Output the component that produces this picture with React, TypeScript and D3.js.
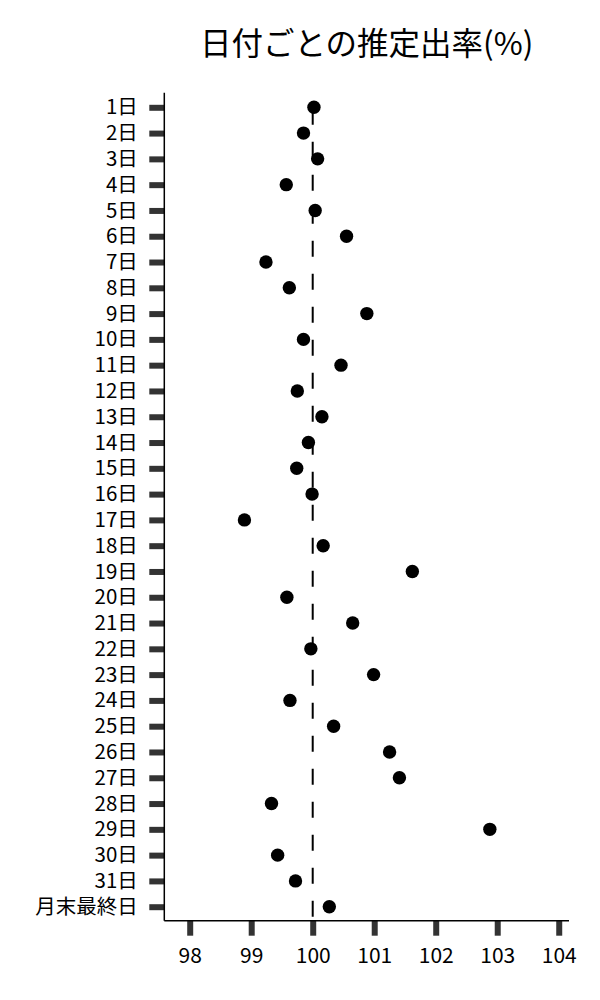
import * as d3 from "d3";
import { useEffect, useRef } from "react";

const DAY_LABELS = [
  "1日", "2日", "3日", "4日", "5日", "6日", "7日", "8日", "9日", "10日",
  "11日", "12日", "13日", "14日", "15日", "16日", "17日", "18日", "19日", "20日",
  "21日", "22日", "23日", "24日", "25日", "26日", "27日", "28日", "29日", "30日",
  "31日", "月末最終日",
];

const RATE_VALUES = [
  100.02, 99.85, 100.08, 99.57, 100.04, 100.55, 99.24, 99.62, 100.88, 99.85,
  100.46, 99.75, 100.15, 99.93, 99.74, 99.99, 98.89, 100.17, 101.62, 99.58,
  100.65, 99.97, 100.99, 99.63, 100.34, 101.25, 101.41, 99.33, 102.88, 99.43,
  99.72, 100.27,
];

const X_TICKS = [98, 99, 100, 101, 102, 103, 104];
const X_DOMAIN = [97.587, 104.167];
const REFERENCE_VALUE = 100;
const TITLE = "日付ごとの推定出率(%)";

const WIDTH = 600;
const HEIGHT = 1000;
const FONT = "'Noto Sans CJK JP', 'Noto Sans', sans-serif";

const drawChart = (svgElement: SVGSVGElement) => {
  const svg = d3.select(svgElement);
  svg.selectAll("*").remove();

  const margin = { top: 92.7, right: 31, bottom: 79.3, left: 164.3 };
  const plotWidth = WIDTH - margin.left - margin.right;
  const plotHeight = HEIGHT - margin.top - margin.bottom;

  const xScale = d3.scaleLinear().domain(X_DOMAIN).range([0, plotWidth]);
  const yScale = d3.scalePoint<string>().domain(DAY_LABELS).range([14.6, plotHeight - 14]);

  const root = svg.append("g").attr("transform", `translate(${margin.left},${margin.top})`);

  svg
    .append("text")
    .attr("x", margin.left + plotWidth / 2)
    .attr("y", 55)
    .attr("text-anchor", "middle")
    .style("font-family", FONT)
    .style("font-size", "31.5px")
    .attr("fill", "#000")
    .text(TITLE);

  // reference line
  root
    .append("line")
    .attr("x1", xScale(REFERENCE_VALUE))
    .attr("x2", xScale(REFERENCE_VALUE))
    .attr("y1", 0)
    .attr("y2", plotHeight)
    .attr("stroke", "#000")
    .attr("stroke-width", 2)
    .attr("stroke-dasharray", "16 17")
    .attr("stroke-dashoffset", 17);

  const yAxis = root
    .append("g")
    .call(d3.axisLeft(yScale).tickSize(15).tickPadding(11.5).tickSizeOuter(0));
  yAxis.select(".domain").remove();
  yAxis.selectAll(".tick line").attr("stroke", "#333").attr("stroke-width", 6);
  yAxis
    .selectAll(".tick text")
    .style("font-family", FONT)
    .style("font-size", "20.5px")
    .attr("fill", "#000");

  const xAxis = root
    .append("g")
    .attr("transform", `translate(0,${plotHeight})`)
    .call(
      d3
        .axisBottom(xScale)
        .tickValues(X_TICKS)
        .tickFormat(d3.format("d"))
        .tickSize(15)
        .tickPadding(12.3)
        .tickSizeOuter(0)
    );
  xAxis.select(".domain").remove();
  xAxis.selectAll(".tick line").attr("stroke", "#333").attr("stroke-width", 6);
  xAxis
    .selectAll(".tick text")
    .style("font-family", FONT)
    .style("font-size", "21px")
    .attr("fill", "#000");

  // spines
  root
    .append("line")
    .attr("x1", 0)
    .attr("x2", 0)
    .attr("y1", 0)
    .attr("y2", plotHeight)
    .attr("stroke", "#000")
    .attr("stroke-width", 1.5);
  root
    .append("line")
    .attr("x1", 0)
    .attr("x2", plotWidth)
    .attr("y1", plotHeight)
    .attr("y2", plotHeight)
    .attr("stroke", "#000")
    .attr("stroke-width", 1.5);

  root
    .selectAll("circle.dot")
    .data(RATE_VALUES)
    .join("circle")
    .attr("class", "dot")
    .attr("cx", (value) => xScale(value))
    .attr("cy", (_, index) => yScale(DAY_LABELS[index]) ?? 0)
    .attr("r", 6.7)
    .attr("fill", "#000");
};

const App = () => {
  const svgRef = useRef<SVGSVGElement | null>(null);

  useEffect(() => {
    if (!svgRef.current) return;
    drawChart(svgRef.current);
  }, []);

  return (
    <svg
      ref={svgRef}
      width={WIDTH}
      height={HEIGHT}
      style={{ position: "absolute", left: 0, top: 0, display: "block", background: "#fff" }}
    />
  );
};

export default App;
